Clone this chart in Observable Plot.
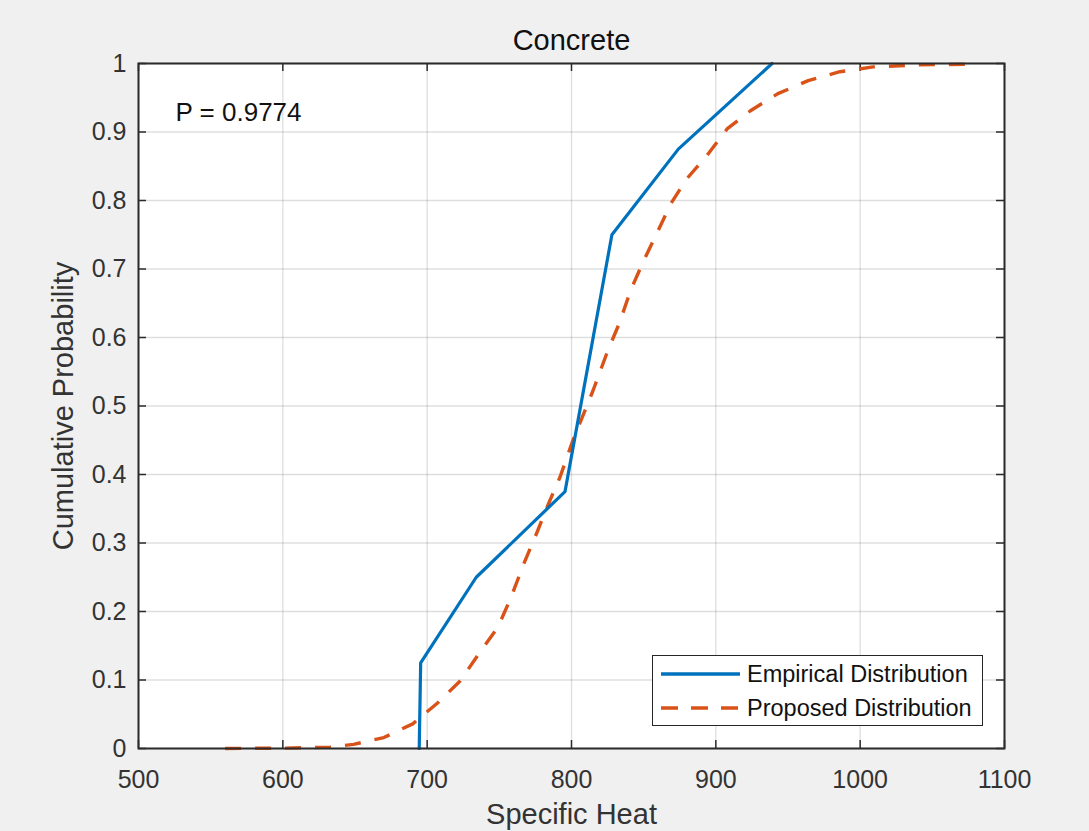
<!DOCTYPE html>
<html>
<head>
<meta charset="utf-8">
<script src="https://cdn.jsdelivr.net/npm/d3@7"></script>
<script src="https://cdn.jsdelivr.net/npm/@observablehq/plot@0.6"></script>
<style>
  html, body { margin: 0; padding: 0; background: #f0f0f0; }
  #wrap { position: relative; width: 1089px; height: 831px; background: #f0f0f0; font-family: "Liberation Sans", Arial, sans-serif; }
  #legend { position: absolute; left: 652px; top: 655px; width: 329px; height: 69px; background: #fff; border: 1.5px solid #262626; }
  .lrow { position: absolute; left: 0; height: 30px; display: flex; align-items: center; font-size: 23.5px; color: #111; white-space: nowrap; }
  .lrow svg { margin-left: 8px; margin-right: 7px; }
</style>
</head>
<body>
<div id="wrap"></div>
<script>
// Empirical CDF vertices
const empX = [694.5, 695.5, 734, 795.5, 828, 874, 939];
const empY = [0, 0.125, 0.25, 0.375, 0.75, 0.875, 1];

// Proposed (fitted) distribution
const propX = [560, 600, 633, 649, 670, 690, 707, 723, 736, 749, 758, 767, 776, 784, 792, 801, 815, 825, 833, 841, 850, 860, 869, 880, 894, 908, 924, 943, 964, 986, 1009, 1040, 1075];
const propY = [0, 0.0005, 0.002, 0.006, 0.016, 0.036, 0.066, 0.099, 0.139, 0.177, 0.22, 0.27, 0.315, 0.357, 0.396, 0.45, 0.523, 0.58, 0.62, 0.669, 0.712, 0.756, 0.796, 0.832, 0.866, 0.905, 0.931, 0.956, 0.975, 0.988, 0.995, 0.998, 0.999];

const xTicks = [500, 600, 700, 800, 900, 1000, 1100];
const xTickLabels = ["500", "600", "700", "800", "900", "1000", "1100"];
const yTicks = [0, 0.1, 0.2, 0.3, 0.4, 0.5, 0.6, 0.7, 0.8, 0.9, 1];
const yTickLabels = ["0", "0.1", "0.2", "0.3", "0.4", "0.5", "0.6", "0.7", "0.8", "0.9", "1"];

const titleText = "Concrete";
const xLabel = "Specific Heat";
const yLabel = "Cumulative Probability";
const pText = "P = 0.9774";
const seriesNames = ["Empirical Distribution", "Proposed Distribution"];
const colors = ["#0072BD", "#D95319"];

const emp = empX.map((x, i) => ({x, y: empY[i]}));
const prop = propX.map((x, i) => ({x, y: propY[i]}));

const W = 1089, H = 831;
const mL = 138, mR = 85, mT = 63, mB = 83;
const innerH = H - mT - mB;
const innerW = W - mL - mR;
const tick = 8;
const axisColor = "#2b2b2b";
const xFmt = d => xTickLabels[xTicks.indexOf(d)];
const yFmt = d => yTickLabels[yTicks.indexOf(d)];

const chart = Plot.plot({
  width: W,
  height: H,
  marginLeft: mL,
  marginRight: mR,
  marginTop: mT,
  marginBottom: mB,
  style: { background: "transparent", fontFamily: "'Liberation Sans', Arial, sans-serif", color: "#333" },
  x: { domain: [500, 1100], ticks: xTicks, tickFormat: xFmt, label: null },
  y: { domain: [0, 1], ticks: yTicks, tickFormat: yFmt, label: null },
  marks: [
    Plot.frame({ fill: "#fff", stroke: null }),
    Plot.ruleX(xTicks, { x: d => d, stroke: "#000", strokeOpacity: 0.13, strokeWidth: 1.3 }),
    Plot.ruleY(yTicks, { y: d => d, stroke: "#000", strokeOpacity: 0.13, strokeWidth: 1.3 }),
    // inward ticks, all four sides
    Plot.ruleX(xTicks, { x: d => d, insetTop: innerH - tick, stroke: axisColor, strokeWidth: 1.5 }),
    Plot.ruleX(xTicks, { x: d => d, insetBottom: innerH - tick, stroke: axisColor, strokeWidth: 1.5 }),
    Plot.ruleY(yTicks, { y: d => d, insetRight: innerW - tick, stroke: axisColor, strokeWidth: 1.5 }),
    Plot.ruleY(yTicks, { y: d => d, insetLeft: innerW - tick, stroke: axisColor, strokeWidth: 1.5 }),
    Plot.axisX({ ticks: xTicks, tickFormat: xFmt, tickSize: 0, tickPadding: 22, fontSize: 25, fill: "#333", label: null }),
    Plot.axisY({ ticks: yTicks, tickFormat: yFmt, tickSize: 0, tickPadding: 12, fontSize: 25, fill: "#333", label: null }),
    Plot.line(prop, { x: "x", y: "y", stroke: colors[1], strokeWidth: 3.4, strokeDasharray: "16,14", strokeLinecap: "butt" }),
    Plot.line(emp, { x: "x", y: "y", stroke: colors[0], strokeWidth: 3.2 }),
    Plot.frame({ stroke: axisColor, strokeWidth: 2 }),
    Plot.text([pText], { text: d => d, frameAnchor: "top-left", dx: 37, dy: 49, textAnchor: "start", lineAnchor: "middle", fontSize: 26, fill: "#111" }),
    Plot.text([titleText], { text: d => d, frameAnchor: "top", dy: -23, lineAnchor: "middle", fontSize: 29, fill: "#111" }),
    Plot.text([xLabel], { text: d => d, frameAnchor: "bottom", dy: 66, lineAnchor: "middle", fontSize: 29, fill: "#333" }),
    Plot.text([yLabel], { text: d => d, frameAnchor: "left", dx: -75, rotate: -90, textAnchor: "middle", lineAnchor: "middle", fontSize: 29, fill: "#333" })
  ]
});

const wrap = document.getElementById("wrap");
wrap.appendChild(chart);

const legend = document.createElement("div");
legend.id = "legend";
seriesNames.forEach((name, i) => {
  const row = document.createElement("div");
  row.className = "lrow";
  row.style.top = (i === 0 ? 3 : 37) + "px";
  const dash = i === 0 ? "" : 'stroke-dasharray="17,13"';
  row.innerHTML = `<svg width="79" height="10"><line x1="0" y1="5" x2="79" y2="5" stroke="${colors[i]}" stroke-width="3.4" ${dash}/></svg><span>${name}</span>`;
  legend.appendChild(row);
});
wrap.appendChild(legend);
</script>
</body>
</html>
